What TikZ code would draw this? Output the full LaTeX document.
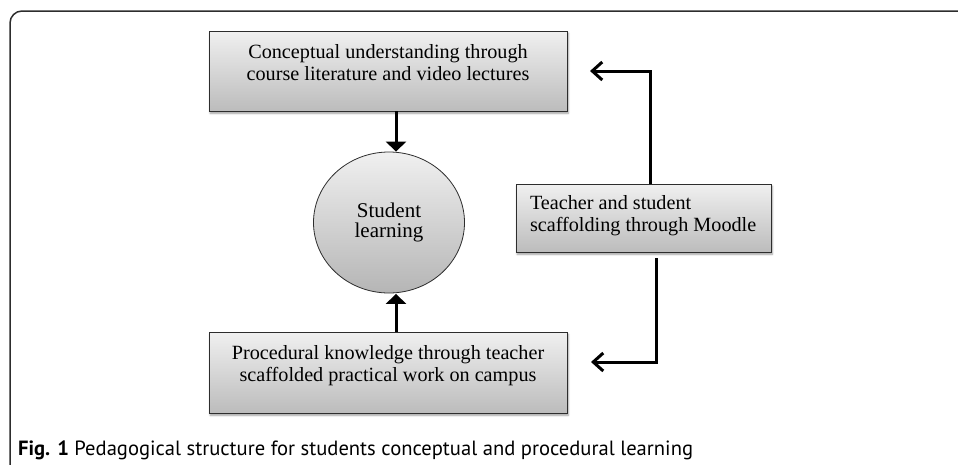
\documentclass[tikz,border=0pt]{standalone}
\usepackage{fontspec}
\setmainfont{Liberation Serif}
\newfontfamily\capfont{PT Sans}
\usetikzlibrary{arrows.meta,shapes.geometric,shadows.blur}
\definecolor{boxtop}{RGB}{240,240,240}
\definecolor{boxbot}{RGB}{188,188,188}
\definecolor{frame}{RGB}{45,45,45}
\tikzset{
  gbox/.style={draw=frame, line width=0.8pt, rectangle, inner sep=0pt,
    top color=boxtop, bottom color=boxbot,
    blur shadow={shadow xshift=1.2pt, shadow yshift=-2.2pt, shadow blur steps=6, shadow blur radius=2pt, shadow opacity=40},
    font=\fontsize{20.2}{22}\selectfont},
  gcirc/.style={draw=frame, line width=0.8pt, ellipse, inner sep=0pt,
    top color=boxtop, bottom color=boxbot!110,
    font=\fontsize{21}{20.5}\selectfont, align=center},
  flow/.style={line width=3pt, -{Triangle[length=10pt,width=20pt]}},
  back/.style={line width=3pt, -{Straight Barb[length=10pt,width=18pt]}},
}
\begin{document}
\begin{tikzpicture}[x=1pt,y=-1pt]
\useasboundingbox (0,0) rectangle (958,464);
\draw[frame, line width=1.5pt, rounded corners=12pt] (958,11) -- (10,11) -- (10,466);
\node[gbox, minimum width=358pt, minimum height=80pt] (top) at (388,71)
  {\parbox[t][54pt][t]{350pt}{\centering Conceptual understanding through\\course literature and video lectures}};
\node[gcirc, minimum width=151pt, minimum height=141pt] (circ) at (389,222.5)
  {Student\\learning};
\node[gbox, minimum width=255pt, minimum height=68pt] (rbox) at (643.5,218)
  {\parbox[t][46pt][t]{227pt}{\raggedright Teacher and student\\scaffolding through Moodle}};
\node[gbox, minimum width=358pt, minimum height=81pt] (bot) at (388,372.5)
  {\parbox[t][55pt][t]{350pt}{\centering Procedural knowledge through teacher\\scaffolded practical work on campus}};
\coordinate (ax) at (396,0);
\coordinate (k1) at (650,0);
\coordinate (k2) at (656,0);
\coordinate (tip1) at (590,71);
\coordinate (tip2) at (591,362);
\draw[flow] (top.south -| ax) -- (circ.north -| ax);
\draw[flow] (bot.north -| ax) -- ([yshift=-0.5pt]circ.south -| ax);
\draw[back] (rbox.north -| k1) |- (tip1);
\draw[back] ([yshift=-6pt]rbox.south -| k2) |- (tip2);
\node[anchor=west, inner sep=0pt, font=\capfont\fontsize{20.6}{22}\selectfont] (cap) at (18,450)
  {\textbf{Fig. 1} Pedagogical structure for students conceptual and procedural learning};
\end{tikzpicture}
\end{document}
